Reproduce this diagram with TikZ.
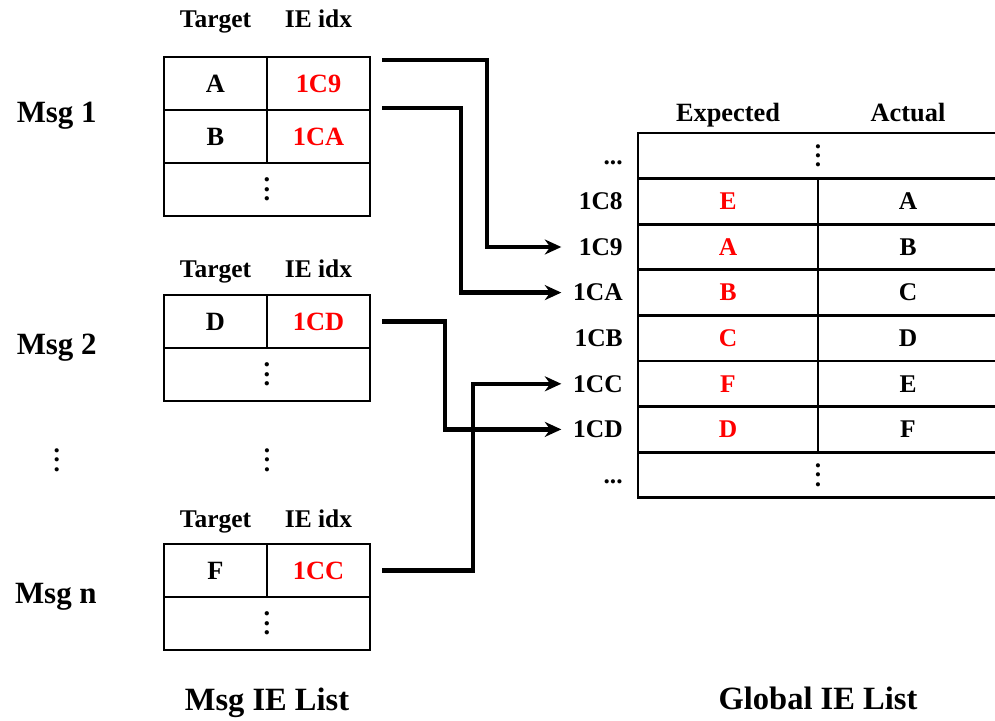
\documentclass[tikz,border=0pt]{standalone}
\usepackage{fontspec}
\setmainfont{Liberation Serif}
\usepackage{xcolor}
\usepackage{tikz}
\usetikzlibrary{positioning,arrows.meta,calc}
\definecolor{IdxRed}{RGB}{255,0,0}
\newcommand{\vdotcol}{\vbox{\baselineskip5.4pt\lineskiplimit0pt\hbox{.}\hbox{.}\hbox{.}}}
\tikzset{
  cell/.style={rectangle, draw, line width=1.5pt, outer sep=0pt, inner sep=0pt,
    minimum width=2.06cm, minimum height=1.06cm, font=\bfseries\fontsize{15}{18}\selectfont},
  widecell/.style={cell, minimum width=4.12cm},
  gcell/.style={cell, minimum width=3.6cm, minimum height=0.912cm,
    font=\bfseries\fontsize{14.5}{17}\selectfont},
  gwide/.style={gcell, minimum width=7.2cm},
  hdr/.style={inner sep=0pt, font=\bfseries\fontsize{14.5}{17}\selectfont},
  ghdr/.style={hdr, font=\bfseries\fontsize{15}{18}\selectfont},
  rowlbl/.style={inner sep=0pt, text width=1.22cm, align=right, text height=12pt,
    text depth=2.5pt, font=\bfseries\fontsize{14.5}{17}\selectfont},
  msglbl/.style={inner sep=0pt, font=\bfseries\fontsize{17.6}{21}\selectfont},
  listtitle/.style={inner sep=0pt, font=\bfseries\fontsize{18.5}{22}\selectfont},
  idx/.style={text=IdxRed},
  link/.style={-{Stealth[length=3.3mm, width=3mm]}, line width=2.6pt}
}
\begin{document}
\begin{tikzpicture}[node distance=0pt]
  \useasboundingbox (0,0) rectangle (19.9,14.4);
  % Msg 1
  \node[cell, anchor=north west] (tA) at (3.28,13.26) {A};
  \node[cell, idx, right=of tA] (iA) {1C9};
  \node[cell, below=of tA] (tB) {B};
  \node[cell, idx, right=of tB] (iB) {1CA};
  \node[widecell, anchor=north west] (dots1) at (tB.south west) {\vdotcol};
  \node[hdr, above=0.58cm of tA, anchor=base] (htA) {Target};
  \node[hdr, above=0.58cm of iA, anchor=base] (hiA) {IE idx};
  \node[msglbl, left=1.34cm of tA.south west, yshift=-0.12cm] (msg1) {Msg 1};
  % Msg 2
  \node[cell, anchor=north west] (tD) at (3.28,8.5) {D};
  \node[cell, idx, right=of tD] (iD) {1CD};
  \node[widecell, anchor=north west] (dots2) at (tD.south west) {\vdotcol};
  \node[hdr, above=0.34cm of tD, anchor=base] (htD) {Target};
  \node[hdr, above=0.34cm of iD, anchor=base] (hiD) {IE idx};
  \node[msglbl, left=1.34cm of tD.south west] (msg2) {Msg 2};
  % Msg n
  \node[cell, anchor=north west] (tF) at (3.28,3.52) {F};
  \node[cell, idx, right=of tF] (iF) {1CC};
  \node[widecell, anchor=north west] (dots3) at (tF.south west) {\vdotcol};
  \node[hdr, above=0.34cm of tF, anchor=base] (htF) {Target};
  \node[hdr, above=0.34cm of iF, anchor=base] (hiF) {IE idx};
  \node[msglbl, left=1.34cm of tF.south west] (msgn) {Msg n};
  \node[hdr] (vmid) at ([yshift=-1.18cm]dots2.south) {\vdotcol};
  \node[hdr] (vmsg) at (vmid -| msg2) {\vdotcol};
  \node[listtitle, anchor=base] (tmsg) at ([yshift=-1.2cm]dots3.south) {Msg IE List};
  % Global IE list
  \node[gwide, anchor=north west] (gtop) at (12.76,11.74) {\vdotcol};
  \node[rowlbl, left=0.3cm of gtop] (lbltop) {...};
  \coordinate (rowtop) at (gtop.south west);
  \foreach \r/\e/\a [remember=\r as \p (initially top)] in
      {8/E/A, 9/A/B, A/B/C, B/C/D, C/F/E, D/D/F} {
    \node[gcell, idx, anchor=north west] (exp\r) at (row\p) {\e};
    \node[gcell, right=of exp\r] (act\r) {\a};
    \node[rowlbl, left=0.3cm of exp\r] (lbl\r) {1C\r};
    \coordinate (row\r) at (exp\r.south west);
  }
  \node[gwide, anchor=north west] (gbot) at (rowD) {\vdotcol};
  \node[rowlbl, left=0.3cm of gbot] (lblbot) {...};
  \node[ghdr, anchor=base] (hexp) at ([yshift=0.22cm]gtop.north -| exp8) {Expected};
  \node[ghdr, anchor=base] (hact) at ([yshift=0.22cm]gtop.north -| act8) {Actual};
  \node[listtitle, anchor=base] (tglob) at ([yshift=-4.24cm]gbot.south) {Global IE List};
  % links
  \draw[link] ([xshift=0.24cm, yshift=-0.06cm]iA.north east) -- ++(2.1,0) |- (lbl9);
  \draw[link] ([xshift=0.24cm, yshift=0.04cm]iA.south east) -- ++(1.58,0) |- (lblA);
  \draw[link] ([xshift=0.24cm]iD.east) -- ++(1.26,0) |- (lblD);
  \draw[link] ([xshift=0.24cm]iF.east) -- ++(1.82,0) |- (lblC);
\end{tikzpicture}
\end{document}
